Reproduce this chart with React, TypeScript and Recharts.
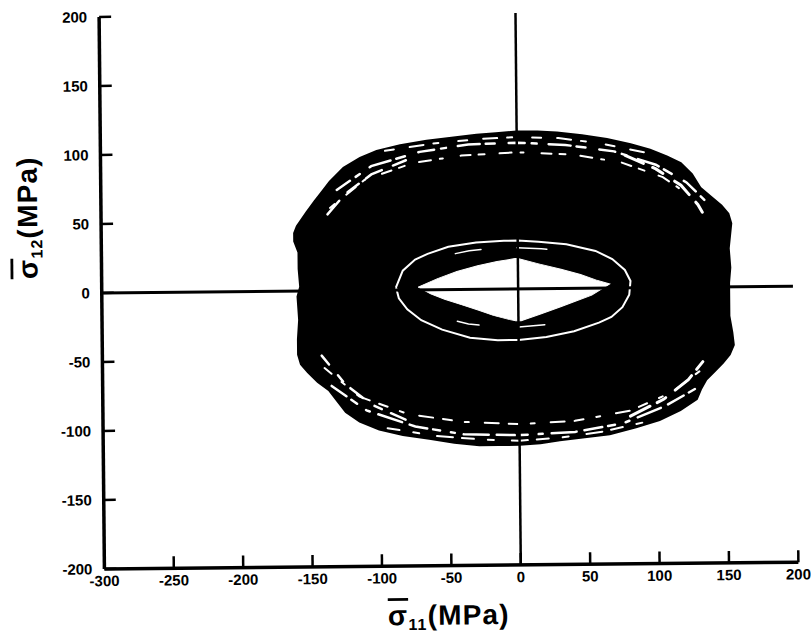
import React from 'react';
import { ScatterChart, Scatter, XAxis, YAxis } from 'recharts';

type Pt = { x: number; y: number };

const X_TICKS = [-300, -250, -200, -150, -100, -50, 0, 50, 100, 150, 200];
const Y_TICKS = [-200, -150, -100, -50, 0, 50, 100, 150, 200];

// outer edge of the tangle of stress loops (sigma11, sigma12 in MPa)
const BLOB_OUTLINE: Pt[] = [
    { x: 0, y: 114 }, { x: 15, y: 114 }, { x: 29, y: 113 }, { x: 47, y: 111 }, { x: 65, y: 108 },
    { x: 82, y: 104 }, { x: 96, y: 100 }, { x: 108, y: 95 }, { x: 118, y: 90 }, { x: 126, y: 82 },
    { x: 132, y: 72 }, { x: 140, y: 65 }, { x: 147, y: 59 }, { x: 152, y: 53 }, { x: 154, y: 46 },
    { x: 153, y: 37 }, { x: 152, y: 28 }, { x: 153, y: 14 }, { x: 152, y: 3 }, { x: 152, y: -9 },
    { x: 152, y: -21 }, { x: 154, y: -33 }, { x: 155, y: -42 }, { x: 152, y: -49 }, { x: 147, y: -55 },
    { x: 141, y: -61 }, { x: 135, y: -67 }, { x: 131, y: -74 }, { x: 128, y: -81 }, { x: 116, y: -89 },
    { x: 101, y: -96 }, { x: 84, y: -101 }, { x: 65, y: -106 }, { x: 47, y: -108 }, { x: 29, y: -110 },
    { x: 15, y: -112 }, { x: 0, y: -113 }, { x: -15, y: -113 }, { x: -29, y: -113 }, { x: -47, y: -111 },
    { x: -65, y: -108 }, { x: -84, y: -105 }, { x: -101, y: -101 }, { x: -115, y: -95 }, { x: -125, y: -88 },
    { x: -131, y: -80 }, { x: -137, y: -72 }, { x: -145, y: -66 }, { x: -152, y: -59 }, { x: -157, y: -53 },
    { x: -159, y: -46 }, { x: -159, y: -35 }, { x: -158, y: -21 }, { x: -159, y: -4 }, { x: -157, y: 3 },
    { x: -158, y: 16 }, { x: -158, y: 28 }, { x: -161, y: 36 }, { x: -161, y: 42 }, { x: -159, y: 47 },
    { x: -152, y: 57 }, { x: -146, y: 65 }, { x: -142, y: 70 }, { x: -135, y: 79 }, { x: -125, y: 89 },
    { x: -113, y: 96 }, { x: -101, y: 101 }, { x: -84, y: 105 }, { x: -65, y: 108 }, { x: -47, y: 110 },
    { x: -29, y: 112 }, { x: -15, y: 113 }, { x: 0, y: 114 },
];

// gaps between the outer loops, upper and lower bands
const TOP_GAP_EDGE: Pt[] = [
    { x: -95, y: 101 }, { x: -60, y: 106 }, { x: -25, y: 109 }, { x: 0, y: 110 }, { x: 30, y: 109 },
    { x: 60, y: 105 }, { x: 92, y: 98 },
];
const TOP_GAP_OUTER: Pt[] = [
    { x: -130, y: 73 }, { x: -105, y: 90 }, { x: -70, y: 100 }, { x: -35, y: 105 }, { x: 0, y: 106 },
    { x: 35, y: 104 }, { x: 70, y: 99 }, { x: 100, y: 89 }, { x: 122, y: 76 }, { x: 135, y: 63 },
];
const TOP_GAP_INNER: Pt[] = [
    { x: -135, y: 60 }, { x: -110, y: 80 }, { x: -75, y: 92 }, { x: -40, y: 97 }, { x: 0, y: 99 },
    { x: 40, y: 97 }, { x: 75, y: 91 }, { x: 105, y: 80 }, { x: 125, y: 66 },
];
const BOTTOM_GAP_EDGE: Pt[] = [
    { x: -95, y: -100 }, { x: -60, y: -106 }, { x: -25, y: -109 }, { x: 0, y: -110 }, { x: 30, y: -108 },
    { x: 60, y: -104 }, { x: 92, y: -97 },
];
const BOTTOM_GAP_OUTER: Pt[] = [
    { x: -135, y: -69 }, { x: -110, y: -87 }, { x: -75, y: -99 }, { x: -40, y: -105 }, { x: 0, y: -106 },
    { x: 40, y: -104 }, { x: 75, y: -98 }, { x: 105, y: -86 }, { x: 128, y: -73 },
];
const BOTTOM_GAP_INNER: Pt[] = [
    { x: -140, y: -56 }, { x: -115, y: -77 }, { x: -80, y: -90 }, { x: -40, y: -96 }, { x: 0, y: -98 },
    { x: 40, y: -96 }, { x: 80, y: -89 }, { x: 110, y: -76 }, { x: 130, y: -61 },
];
// diagonal gaps on the shoulders of the tangle
const UPPER_RIGHT_GAP: Pt[] = [
    { x: 78, y: 96 }, { x: 100, y: 86 }, { x: 118, y: 74 }, { x: 130, y: 60 }, { x: 138, y: 46 },
];
const UPPER_LEFT_GAP: Pt[] = [
    { x: -80, y: 94 }, { x: -105, y: 84 }, { x: -124, y: 70 }, { x: -138, y: 54 },
];
const LOWER_RIGHT_GAP: Pt[] = [
    { x: 80, y: -93 }, { x: 104, y: -81 }, { x: 122, y: -67 }, { x: 135, y: -51 },
];
const LOWER_LEFT_GAP: Pt[] = [
    { x: -82, y: -94 }, { x: -106, y: -83 }, { x: -125, y: -68 }, { x: -142, y: -47 },
];

// innermost stable loop
const INNER_RING: Pt[] = [
    { x: -88, y: 2 }, { x: -83, y: 14 }, { x: -74, y: 22 }, { x: -65, y: 26 }, { x: -50, y: 31 },
    { x: -30, y: 34 }, { x: -10, y: 35 }, { x: 0, y: 35 }, { x: 15, y: 34 }, { x: 35, y: 32 },
    { x: 56, y: 27 }, { x: 68, y: 21 }, { x: 77, y: 13 }, { x: 81, y: 5 }, { x: 80, y: -5 },
    { x: 75, y: -14 }, { x: 67, y: -21 }, { x: 58, y: -25 }, { x: 40, y: -31 }, { x: 20, y: -35 },
    { x: 0, y: -37 }, { x: -15, y: -37 }, { x: -35, y: -35 }, { x: -55, y: -29 }, { x: -70, y: -22 },
    { x: -80, y: -14 }, { x: -86, y: -6 }, { x: -88, y: 2 },
];

// short traces just inside the inner loop
const INNER_TRACE_TOP: Pt[] = [
    { x: -45, y: 26 }, { x: -35, y: 28 }, { x: -24, y: 29 }, { x: -5, y: 30 }, { x: 17, y: 29 },
    { x: 26, y: 28 }, { x: 35, y: 26 },
];
const INNER_TRACE_BOTTOM: Pt[] = [
    { x: -44, y: -23 }, { x: -36, y: -25 }, { x: -28, y: -26 }, { x: -5, y: -28 }, { x: 20, y: -26 },
    { x: 28, y: -25 }, { x: 36, y: -23 },
];

// region never visited
const LENS: Pt[] = [
    { x: -72, y: 2 }, { x: -58, y: 8 }, { x: -44, y: 13 }, { x: -29, y: 17 }, { x: -15, y: 20 },
    { x: -2, y: 22 }, { x: 0, y: 22 }, { x: 15, y: 18 }, { x: 31, y: 14 }, { x: 45, y: 10 },
    { x: 56, y: 6 }, { x: 66, y: 3 }, { x: 53, y: -5 }, { x: 42, y: -9 }, { x: 31, y: -13 },
    { x: 17, y: -18 }, { x: 2, y: -23 }, { x: -2, y: -23 }, { x: -7, y: -22 }, { x: -18, y: -19 },
    { x: -29, y: -15 }, { x: -41, y: -11 }, { x: -53, y: -7 }, { x: -63, y: -3 }, { x: -72, y: 2 },
];

const H_AXIS: Pt[] = [{ x: -300, y: 0 }, { x: 198, y: 0 }];
const V_AXIS: Pt[] = [{ x: 0, y: 200 }, { x: 0, y: -200 }];

const FONT = '"Liberation Sans", Arial, sans-serif';

const noDot = () => <g />;

const XTick = (props: any) => {
    const { x, y, payload } = props;
    return (
        <text x={x} y={y} dy="0.75em" textAnchor="middle" fill="#000" fontSize={15} fontWeight={700} fontFamily={FONT}>
            {payload.value}
        </text>
    );
};

const YTick = (props: any) => {
    const { x, y, payload } = props;
    return (
        <text x={x} y={y} dy="0.36em" textAnchor="end" fill="#000" fontSize={15} fontWeight={700} fontFamily={FONT}>
            {payload.value}
        </text>
    );
};

const sigmaStyle = { textDecoration: 'overline' };

const YTitle = () => {
    const bx = 38;
    const my = 214;
    return (
        <text x={bx} y={my} transform={`rotate(-90, ${bx}, ${my})`} textAnchor="middle"
            fontFamily={FONT} fontWeight={700} fontSize={28} letterSpacing={1.2} fill="#000">
            <tspan style={sigmaStyle}>σ</tspan>
            <tspan fontSize={16} dy={5}>12</tspan>
            <tspan dy={-5}>(MPa)</tspan>
        </text>
    );
};

const XTitle = () => (
    <text x={446} y={625} textAnchor="middle" fontFamily={FONT} fontWeight={700} fontSize={28}
        letterSpacing={1.2} fill="#000">
        <tspan style={sigmaStyle}>σ</tspan>
        <tspan fontSize={16} dy={5}>11</tspan>
        <tspan dy={-5}>(MPa)</tspan>
    </text>
);

const whiteGap = (dash: string, width: number) => ({ stroke: '#fff', strokeWidth: width, strokeDasharray: dash, strokeLinecap: 'round' as const });

const GAPS: { data: Pt[]; dash: string; width: number }[] = [
    { data: TOP_GAP_EDGE, dash: '9 16 14 10 5 20', width: 2 },
    { data: TOP_GAP_OUTER, dash: '16 7 5 12 22 6 9 14', width: 2.5 },
    { data: TOP_GAP_INNER, dash: '6 15 12 9 3 18 10 8', width: 2 },
    { data: BOTTOM_GAP_EDGE, dash: '12 14 6 18 16 9', width: 2 },
    { data: BOTTOM_GAP_OUTER, dash: '18 6 7 11 4 9 25 8', width: 2.5 },
    { data: BOTTOM_GAP_INNER, dash: '9 13 4 16 14 10', width: 2 },
    { data: UPPER_RIGHT_GAP, dash: '20 10 12 14', width: 3 },
    { data: UPPER_LEFT_GAP, dash: '14 12 18 9', width: 2.5 },
    { data: LOWER_RIGHT_GAP, dash: '22 8 10 12', width: 3 },
    { data: LOWER_LEFT_GAP, dash: '16 10 8 14', width: 2.5 },
    { data: INNER_TRACE_TOP, dash: '26 36 30 60', width: 1.5 },
    { data: INNER_TRACE_BOTTOM, dash: '22 40 26 60', width: 1.5 },
];

export default function App() {
    return (
        <div style={{ position: 'absolute', left: 0, top: 0, width: 811, height: 633, background: '#fff', transform: 'rotate(-0.55deg)' }}>
            <ScatterChart width={811} height={633} margin={{ top: 14, right: 15, bottom: 5, left: 0 }}>
                <XAxis
                    type="number"
                    dataKey="x"
                    domain={[-300, 200]}
                    ticks={X_TICKS}
                    interval={0}
                    height={62}
                    axisLine={{ stroke: '#000', strokeWidth: 3.5 }}
                    // tick marks point up into the plot
                    tickLine={{ stroke: '#000', strokeWidth: 2.5, transform: 'translate(0,-12)' }}
                    tickSize={12}
                    tickMargin={-6}
                    tick={<XTick />}
                    label={<XTitle />}
                />
                <YAxis
                    type="number"
                    dataKey="y"
                    domain={[-200, 200]}
                    ticks={Y_TICKS}
                    interval={0}
                    width={102}
                    axisLine={{ stroke: '#000', strokeWidth: 3.5 }}
                    tickLine={{ stroke: '#000', strokeWidth: 2.5, transform: 'translate(12,0)' }}
                    tickSize={12}
                    tickMargin={0}
                    tick={<YTick />}
                    label={<YTitle />}
                />
                <Scatter data={BLOB_OUTLINE} fill="#000" shape={noDot} isAnimationActive={false}
                    line={{ stroke: '#000', strokeWidth: 2, fill: '#000' }} />
                {GAPS.map((g, i) => (
                    <Scatter key={i} data={g.data} fill="#fff" shape={noDot} isAnimationActive={false}
                        line={whiteGap(g.dash, g.width)} />
                ))}
                <Scatter data={INNER_RING} fill="#fff" shape={noDot} isAnimationActive={false}
                    line={{ stroke: '#fff', strokeWidth: 2 }} />
                <Scatter data={LENS} fill="#fff" shape={noDot} isAnimationActive={false}
                    line={{ stroke: '#fff', strokeWidth: 1, fill: '#fff' }} />
                <Scatter data={H_AXIS} fill="#000" shape={noDot} isAnimationActive={false}
                    line={{ stroke: '#000', strokeWidth: 3 }} />
                <Scatter data={V_AXIS} fill="#000" shape={noDot} isAnimationActive={false}
                    line={{ stroke: '#000', strokeWidth: 2.5 }} />
            </ScatterChart>
        </div>
    );
}
